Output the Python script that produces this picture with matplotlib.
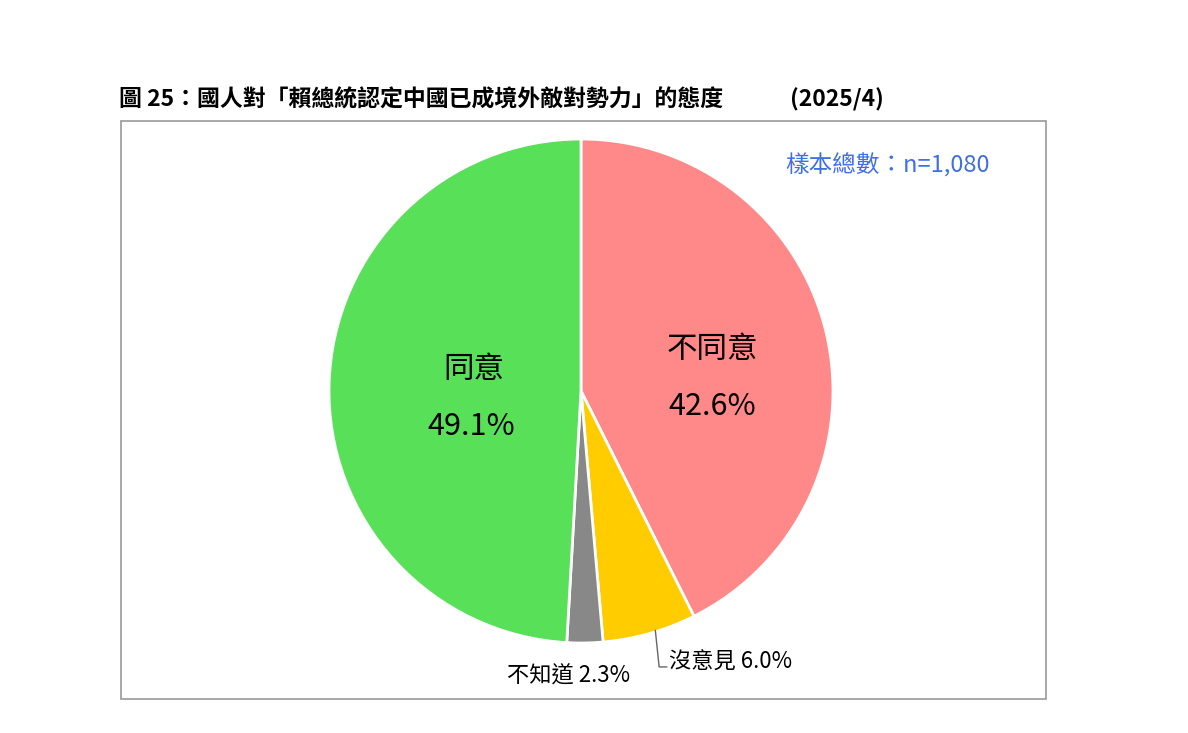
import matplotlib.pyplot as plt
from matplotlib.patches import Rectangle

plt.rcParams['font.family'] = ['Noto Sans CJK TC', 'DejaVu Sans']

labels = ['不同意', '沒意見', '不知道', '同意']
values = [42.6, 6.0, 2.3, 49.1]
colors = ['#ff8888', '#ffcc00', '#888888', '#58e058']

fig = plt.figure(figsize=(11.88, 7.33), dpi=100)
fig.patches.append(Rectangle((121/1188, 1-699/733), 925/1188, 578/733,
                             transform=fig.transFigure, fill=False,
                             edgecolor='#999999', linewidth=1.2))
fig.text(119/1188, 1-100/733, '圖 25：國人對「賴總統認定中國已成境外敵對勢力」的態度', 
         fontsize=16.5, fontweight='bold', va='center', ha='left')
fig.text(790/1188, 1-100/733, '(2025/4)', fontsize=16.5, fontweight='bold',
         va='center', ha='left')
fig.text(887/1188, 1-165/733, '樣本總數：n=1,080', fontsize=17, color='#3f6fe6',
         va='center', ha='center')

ax = fig.add_axes([(581-252)/1188, 1-(391+252)/733, 504/1188, 504/733])
ax.pie(values, colors=colors, startangle=90, counterclock=False,
       wedgeprops=dict(edgecolor='white', linewidth=2))
ax.set_xlim(-1, 1)
ax.set_ylim(-1, 1)
ax.set_aspect('equal')
ax.axis('off')

ax.text(-0.425, 0.087, labels[3], fontsize=22, ha='center', va='center')
ax.text(-0.437, -0.139, '%.1f%%' % values[3], fontsize=22, ha='center', va='center')
ax.text(0.52, 0.163, labels[0], fontsize=22, ha='center', va='center')
ax.text(0.52, -0.06, '%.1f%%' % values[0], fontsize=22, ha='center', va='center')
ax.text(0.35, -1.075, '%s %.1f%%' % (labels[1], values[1]), fontsize=16,
        ha='left', va='center', clip_on=False)
ax.plot([0.295, 0.31, 0.34], [-0.95, -1.095, -1.095], color='#666666',
        linewidth=1, clip_on=False)
ax.text(-0.05, -1.13, '%s %.1f%%' % (labels[2], values[2]), fontsize=16,
        ha='center', va='center', clip_on=False)

fig.savefig('out.png', dpi=100)
